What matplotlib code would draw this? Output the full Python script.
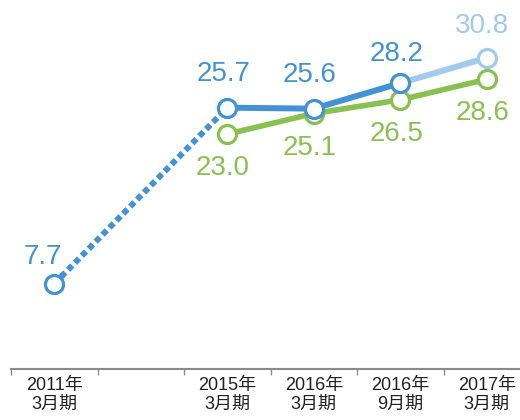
import numpy as np
import matplotlib
matplotlib.use("Agg")
import matplotlib.pyplot as plt

# categories (second one is an empty gap on the axis)
categories = ["2011年\n3月期", "", "2015年\n3月期", "2016年\n3月期", "2016年\n9月期", "2017年\n3月期"]

# blue series: past result (dotted), actual (solid), forecast (light)
blue_past_x = [0, 2]
blue_past = [7.7, 25.7]
blue_x = [2, 3, 4]
blue = [25.7, 25.6, 28.2]
blue_fc_x = [4, 5]
blue_fc = [28.2, 30.8]

# green series
green_x = [2, 3, 4, 5]
green = [23.0, 25.1, 26.5, 28.6]

BLUE = "#4392d3"
LIGHT = "#a2caec"
GREEN = "#89c150"

plt.rcParams["font.family"] = ["Liberation Sans", "Noto Sans CJK JP", "DejaVu Sans"]

fig = plt.figure(figsize=(5.2, 4.2), dpi=100)
ax = fig.add_axes([11 / 520, 51 / 420, 519 / 520, 369 / 420])

mk = dict(marker="o", markersize=13, markerfacecolor="white", markeredgewidth=2.3)

ax.plot(green_x, green, color=GREEN, lw=4.0, markeredgecolor=GREEN, zorder=2, **mk)
ax.plot(blue_past_x, blue_past, color=BLUE, lw=4.3, linestyle=(0, (1.0, 0.65)),
        dash_capstyle="butt", zorder=3)
ax.plot(blue_fc_x, blue_fc, color=LIGHT, lw=4.3, markeredgecolor=LIGHT, zorder=3, **mk)
ax.plot(blue_x, blue, color=BLUE, lw=4.3, markeredgecolor=BLUE, zorder=4, **mk)
ax.plot(blue_past_x[:1], blue_past[:1], color=BLUE, markeredgecolor=BLUE, zorder=4, **mk)

# value labels
fs = 20
ax.annotate(f"{blue_past[0]:.1f}", (blue_past_x[0], blue_past[0]), xytext=(-8, 19),
            textcoords="offset points", ha="center", va="center", color=BLUE, fontsize=fs)
for x, v, dy in zip(blue_x, blue, [24.5, 24.5, 21]):
    ax.annotate(f"{v:.1f}", (x, v), xytext=(-3, dy), textcoords="offset points",
                ha="center", va="center", color=BLUE, fontsize=fs)
ax.annotate(f"{blue_fc[1]:.1f}", (blue_fc_x[1], blue_fc[1]), xytext=(-3.5, 23),
            textcoords="offset points", ha="center", va="center", color=LIGHT, fontsize=fs)
for x, v in zip(green_x, green):
    ax.annotate(f"{v:.1f}", (x, v), xytext=(-3, -24.5), textcoords="offset points",
                ha="center", va="center", color=GREEN, fontsize=fs)

ax.set_xlim(-0.5, 5.5)
ax.set_ylim(-1.0, 36.7)

for s in ["top", "right", "left"]:
    ax.spines[s].set_visible(False)
ax.spines["bottom"].set_color("#8a8a8a")
ax.spines["bottom"].set_linewidth(1.5)
ax.set_yticks([])

ax.set_xticks(range(len(categories)))
ax.set_xticklabels(categories, fontsize=13, linespacing=1.15, color="#222222")
ax.tick_params(axis="x", which="major", length=0, pad=6)
ax.set_xticks(np.arange(-0.5, 5.6, 1.0), minor=True)
ax.tick_params(axis="x", which="minor", length=4, width=1, color="#8a8a8a")

fig.savefig("out.png", dpi=100)
